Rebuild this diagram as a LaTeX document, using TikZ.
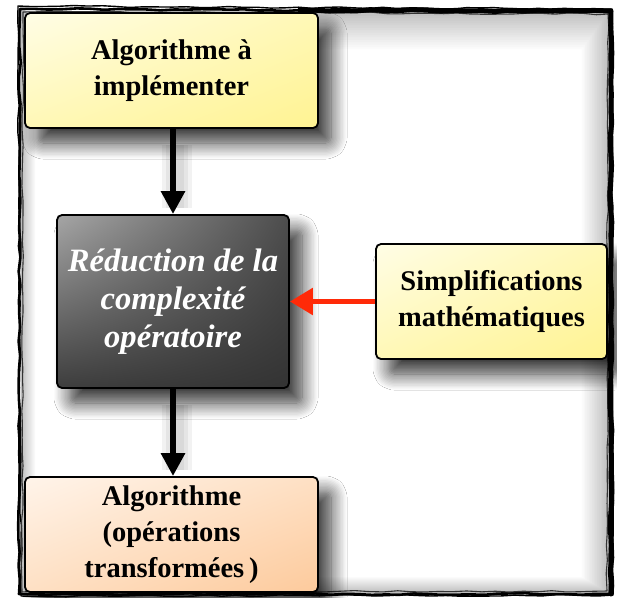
\documentclass[tikz,border=0pt]{standalone}
\usepackage{fontspec}
\setmainfont{Liberation Serif}
\usetikzlibrary{arrows.meta,shadows.blur,shadings,decorations.pathmorphing}

\definecolor{paleyellow}{HTML}{FFFDE6}
\definecolor{midyellow}{HTML}{FFF8B6}
\definecolor{deepyellow}{HTML}{FFF392}
\definecolor{palepeach}{HTML}{FFF4EA}
\definecolor{midpeach}{HTML}{FEE0C4}
\definecolor{deeppeach}{HTML}{FDCA9C}
\definecolor{arrowred}{HTML}{FF2A08}

\tikzset{
  box/.style={draw=black, line width=1.8pt, rounded corners=5pt,
    align=center, font=\bfseries\fontsize{28.5}{36}\selectfont,
    blur shadow={shadow xshift=13pt, shadow yshift=-15pt,
      shadow blur radius=16pt, shadow blur steps=12, shadow opacity=80}},
  yellowbox/.style={box, upper left=paleyellow, lower left=midyellow,
    upper right=midyellow, lower right=deepyellow},
  peachbox/.style={box, upper left=palepeach, lower left=midpeach,
    upper right=midpeach, lower right=deeppeach},
  darkbox/.style={box, text=white,
    font=\bfseries\itshape\fontsize{32.6}{38}\selectfont,
    upper left=black!35, upper right=black!70,
    lower left=black!76, lower right=black!80},
  flow/.style={line width=6pt, -{Triangle[length=23pt,width=23pt]}},
  feed/.style={line width=5.5pt, draw=arrowred,
    -{Triangle[length=23pt,width=26pt]}},
  glow/.style={line width=#1, draw=black, opacity=0.05},
  frame/.style={line width=2.6pt, line cap=round, line join=round,
    decorate, decoration={random steps, segment length=14pt, amplitude=0.9pt}}
}

\begin{document}
\begin{tikzpicture}[x=1pt, y=-1pt]
  \useasboundingbox (0,0) rectangle (617,597);
  \fill[white] (0,0) rectangle (617,597);

  % soft shadow cast inward by the frame, heaviest under the top edge
  \foreach \i in {1,...,16}
    \fill[black, opacity=0.017, even odd rule]
      (21,11) rectangle (609,593)
      (21+0.9*\i, 11+2.4*\i) rectangle (609-1.7*\i, 593-1.0*\i);

  % hand-drawn outer frame
  \pgfmathsetseed{7}
  \draw[frame] (20,9) -- (611,12) -- (610,594) -- (19,594) -- cycle;
  \pgfmathsetseed{23}
  \draw[frame, line width=1.4pt] (18,6) -- (612,9) -- (613,595) -- (21,596) -- cycle;
  \pgfmathsetseed{41}
  \draw[frame, line width=1.1pt, black!80] (23,12) -- (608,14) -- (607,591) -- (22,592) -- cycle;
  \pgfmathsetseed{5}
  \draw[frame, line width=5pt] (300,10) -- (611,11) -- (611,594);

  % process boxes
  \node[yellowbox, minimum width=293pt, minimum height=115pt] (algo)
    at (171.5,70.5) {Algorithme à\\implémenter};
  \node[darkbox, minimum width=232pt, minimum height=173pt] (reduc)
    at (173,301.5) {Réduction de la\\complexité\\opératoire};
  \node[yellowbox, minimum width=231pt, minimum height=115pt] (simpl)
    at (491.5,301.5) {Simplifications\\mathématiques};
  \node[peachbox, minimum width=293pt, minimum height=115pt] (result)
    at (171.5,534.5) {Algorithme\\(opérations\\transformées\,)};

  % faint shadows along the vertical connectors
  \foreach \w in {30pt,22pt,14pt} {
    \draw[glow=\w] ([xshift=4pt,yshift=-16pt]algo.south -| reduc.north)
      -- ([xshift=4pt,yshift=6pt]reduc.north);
    \draw[glow=\w] ([xshift=4pt,yshift=-16pt]reduc.south)
      -- ([xshift=4pt,yshift=6pt]reduc.south |- result.north);
  }

  % connectors
  \draw[flow] (algo.south -| reduc.north) -- (reduc.north);
  \draw[flow] (reduc.south) -- (reduc.south |- result.north);
  \draw[feed] (simpl.west) -- (reduc.east);
\end{tikzpicture}
\end{document}
